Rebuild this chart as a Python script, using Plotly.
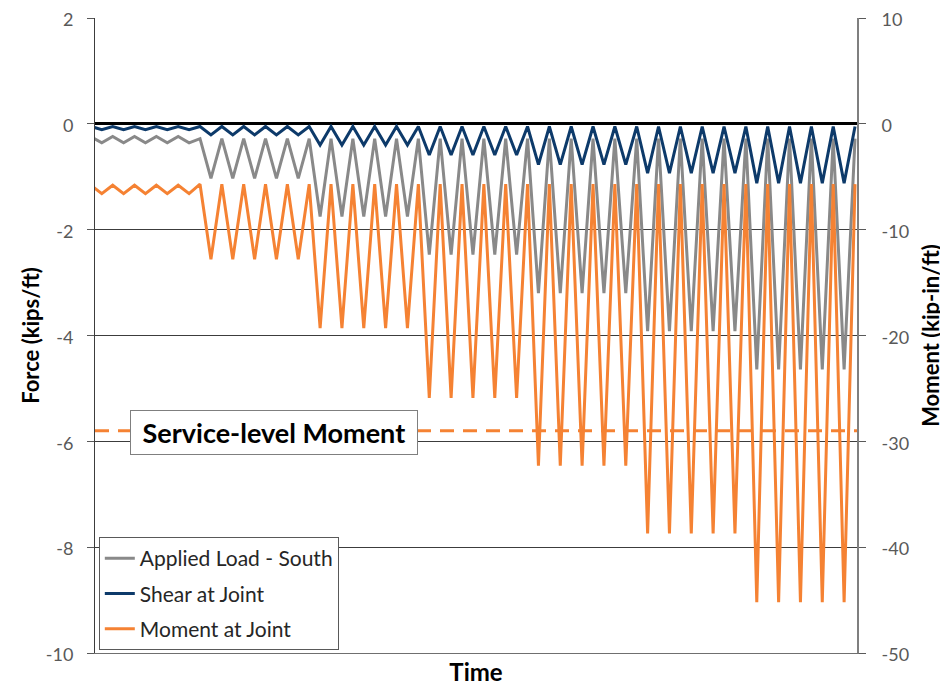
import plotly.graph_objects as go

# sample index along the time axis (one point per peak / trough)
time_step = list(range(71))

# Applied Load - South (kips/ft)
applied_load = [
    -0.24, -0.36, -0.24, -0.36, -0.24, -0.36, -0.24, -0.36, -0.24, -0.36,
    -0.28, -1.03, -0.28, -1.03, -0.28, -1.03, -0.28, -1.03, -0.28, -1.03,
    -0.28, -1.75, -0.28, -1.75, -0.28, -1.75, -0.28, -1.75, -0.28, -1.75,
    -0.28, -2.47, -0.28, -2.47, -0.28, -2.47, -0.28, -2.47, -0.28, -2.47,
    -0.28, -3.20, -0.28, -3.20, -0.28, -3.20, -0.28, -3.20, -0.28, -3.20,
    -0.28, -3.92, -0.28, -3.92, -0.28, -3.92, -0.28, -3.92, -0.28, -3.92,
    -0.28, -4.64, -0.28, -4.64, -0.28, -4.64, -0.28, -4.64, -0.28, -4.64,
    -0.28,
]

# Shear at Joint (kips/ft)
shear = [
    -0.05, -0.11, -0.05, -0.11, -0.05, -0.11, -0.05, -0.11, -0.05, -0.11,
    -0.05, -0.21, -0.05, -0.21, -0.05, -0.21, -0.05, -0.21, -0.05, -0.21,
    -0.05, -0.40, -0.05, -0.40, -0.05, -0.40, -0.05, -0.40, -0.05, -0.40,
    -0.05, -0.59, -0.05, -0.59, -0.05, -0.59, -0.05, -0.59, -0.05, -0.59,
    -0.05, -0.77, -0.05, -0.77, -0.05, -0.77, -0.05, -0.77, -0.05, -0.77,
    -0.05, -0.93, -0.05, -0.93, -0.05, -0.93, -0.05, -0.93, -0.05, -0.93,
    -0.05, -1.12, -0.05, -1.12, -0.05, -1.12, -0.05, -1.12, -0.05, -1.12,
    -0.05,
]

# Moment at Joint (kip-in/ft)
moment = [
    -5.8, -6.6, -5.8, -6.6, -5.8, -6.6, -5.8, -6.6, -5.8, -6.6,
    -5.7, -12.8, -5.7, -12.8, -5.7, -12.8, -5.7, -12.8, -5.7, -12.8,
    -5.7, -19.3, -5.7, -19.3, -5.7, -19.3, -5.7, -19.3, -5.7, -19.3,
    -5.7, -25.9, -5.7, -25.9, -5.7, -25.9, -5.7, -25.9, -5.7, -25.9,
    -5.7, -32.3, -5.7, -32.3, -5.7, -32.3, -5.7, -32.3, -5.7, -32.3,
    -5.7, -38.7, -5.7, -38.7, -5.7, -38.7, -5.7, -38.7, -5.7, -38.7,
    -5.7, -45.2, -5.7, -45.2, -5.7, -45.2, -5.7, -45.2, -5.7, -45.2,
    -5.7,
]

service_moment = -29.0

force_ticks = [2, 0, -2, -4, -6, -8, -10]
force_tick_labels = ["2", "0", "-2", "-4", "-6", "-8", "-10"]
moment_ticks = [10, 0, -10, -20, -30, -40, -50]
moment_tick_labels = ["10", "0", "-10", "-20", "-30", "-40", "-50"]

GRAY = "#898989"
NAVY = "#0d3a6a"
ORANGE = "#f58233"
FONT = "Lato"

fig = go.Figure()

# orange goes underneath, like in the original
fig.add_trace(go.Scatter(
    x=time_step, y=moment, name="Moment at Joint", yaxis="y2",
    mode="lines", line=dict(color=ORANGE, width=3),
    legendgroup="m", legendrank=3,
))
fig.add_trace(go.Scatter(
    x=time_step, y=applied_load, name="Applied Load - South",
    mode="lines", line=dict(color=GRAY, width=3),
    legendgroup="a", legendrank=1,
))
fig.add_trace(go.Scatter(
    x=time_step, y=shear, name="Shear at Joint",
    mode="lines", line=dict(color=NAVY, width=3),
    legendgroup="s", legendrank=2,
))

# service-level moment line
fig.add_shape(
    type="line", xref="paper", x0=0, x1=1, yref="y2",
    y0=service_moment, y1=service_moment,
    line=dict(color=ORANGE, width=3, dash="14px,9px"), layer="below",
)

fig.add_annotation(
    xref="paper", yref="paper", x=0.235, y=0.3465,
    xanchor="center", yanchor="middle",
    text="<b>&nbsp;Service-level Moment&nbsp;</b>", showarrow=False,
    font=dict(family=FONT, size=27, color="#000000"),
    bgcolor="#ffffff", bordercolor="#7f7f7f", borderwidth=1, borderpad=5,
)

# the page body adds an 8px margin, so the plot area is shifted by -8px
fig.update_layout(
    width=948, height=689,
    margin=dict(l=87, r=99, t=10, b=44),
    paper_bgcolor="#ffffff", plot_bgcolor="#ffffff",
    font=dict(family=FONT, size=18, color="#595959"),
    showlegend=True,
    legend=dict(
        x=0.005, y=0.1827, xanchor="left", yanchor="top",
        bgcolor="#ffffff", bordercolor="#595959", borderwidth=1,
        font=dict(family=FONT, size=21, color="#262626"),
        traceorder="grouped", tracegroupgap=5,
    ),
    xaxis=dict(
        range=[0.38, 70.18], showticklabels=False, ticks="",
        showgrid=False, zeroline=False,
        showline=True, linecolor="#6f6f6f", linewidth=1,
        title=dict(text="<b>Time</b>", font=dict(family=FONT, size=24, color="#000000"),
                   standoff=11),
        automargin=False,
    ),
    yaxis=dict(
        range=[-10, 2], tickvals=force_ticks, ticktext=force_tick_labels,
        ticks="outside", ticklen=7, tickcolor="#595959",
        ticklabelstandoff=10, ticklabelshift=2, ticklabeloverflow="allow",
        showgrid=True, gridcolor="#3c3c3c", gridwidth=1,
        zeroline=True, zerolinecolor="#000000", zerolinewidth=2.5,
        showline=True, linecolor="#3c3c3c", linewidth=1,
        title=dict(text="<b>Force (kips/ft)</b>",
                   font=dict(family=FONT, size=22, color="#000000"), standoff=0),
        automargin=False,
    ),
    yaxis2=dict(
        range=[-50, 10], tickvals=moment_ticks, ticktext=moment_tick_labels,
        overlaying="y", side="right",
        ticks="outside", ticklen=7, tickcolor="#595959",
        ticklabelstandoff=12, ticklabelshift=2, ticklabeloverflow="allow",
        showgrid=False, zeroline=False,
        showline=True, linecolor="#7f7f7f", linewidth=2,
        title=dict(text="<b>Moment (kip-in/ft)</b>",
                   font=dict(family=FONT, size=22, color="#000000"), standoff=15),
        automargin=False,
    ),
)

fig.write_html("out.html")
